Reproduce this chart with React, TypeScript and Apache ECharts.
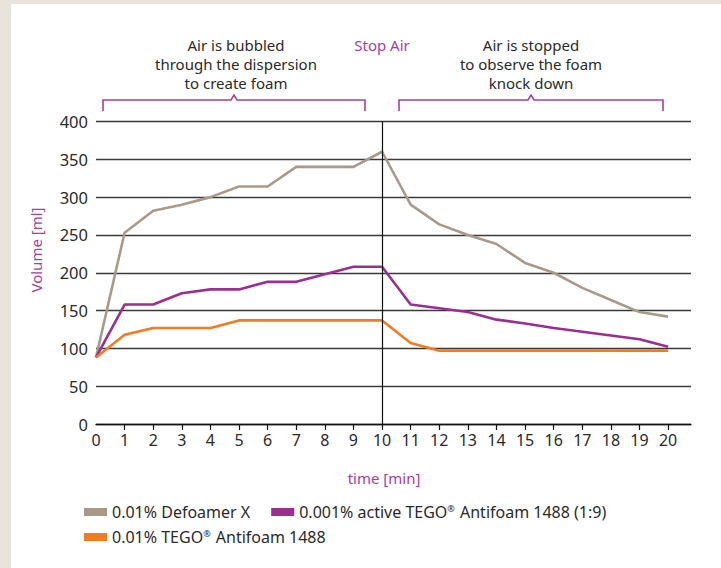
import React, { useEffect, useRef } from "react";
import * as echarts from "echarts";

const minutes = [0, 1, 2, 3, 4, 5, 6, 7, 8, 9, 10, 11, 12, 13, 14, 15, 16, 17, 18, 19, 20];
const defoamerX = [88, 253, 282, 290, 300, 314, 314, 340, 340, 340, 360, 290, 264, 250, 238, 213, 200, 180, 164, 148, 142];
const tegoDiluted = [88, 158, 158, 173, 178, 178, 188, 188, 198, 208, 208, 158, 153, 148, 138, 133, 127, 122, 117, 112, 102];
const tego = [88, 118, 127, 127, 127, 137, 137, 137, 137, 137, 137, 107, 97, 97, 97, 97, 97, 97, 97, 97, 97];
const seriesNames = [
  "0.01% Defoamer X",
  "0.001% active TEGO® Antifoam 1488 (1:9)",
  "0.01% TEGO® Antifoam 1488",
];
const xTicks = minutes;
const stopMinute = 10;

const FONT = "Noto Sans";
const TEXT = "#2a2a2a";
const PURPLE_TXT = "#a8409c";
const COLORS = ["#a89a8b", "#9b2f90", "#f47b20"];

export default function App() {
  const ref = useRef<HTMLDivElement>(null);
  useEffect(() => {
    document.body.style.margin = "0";
    const chart = echarts.init(ref.current!, null, { renderer: "svg" });
    const pair = (ys: number[]) => minutes.map((m, i) => [m, ys[i]]);
    const bracketStyle = { stroke: "#a8409c", lineWidth: 1.6, fill: null };
    const legendText = {
      color: TEXT,
      fontSize: 16,
      fontFamily: FONT,
      rich: {
        sup: { fontSize: 9, fontFamily: FONT, color: TEXT, verticalAlign: "top", padding: [0, 1, 0, 0] },
      },
    };
    const legendFormatter = (name: string) => name.replace("®", "{sup|®}");
    const option: any = {
      animation: false,
      backgroundColor: "#ffffff",
      textStyle: { fontFamily: FONT },
      grid: { left: 96, right: 30, top: 121.5, bottom: 144 },
      xAxis: {
        type: "value",
        min: 0,
        max: 20.8,
        interval: 1,
        axisLine: { show: true, lineStyle: { color: "#111", width: 1.3 } },
        axisTick: { show: true, length: 6, lineStyle: { color: "#111", width: 1.2 }, customValues: xTicks.slice(1) },
        axisLabel: { color: TEXT, fontSize: 16, fontFamily: FONT, margin: 8, customValues: xTicks },
        splitLine: { show: false },
      },
      yAxis: {
        type: "value",
        min: 0,
        max: 400,
        interval: 50,
        axisLine: { show: false },
        axisTick: { show: false },
        axisLabel: { color: TEXT, fontSize: 16.5, fontFamily: FONT, margin: 8 },
        splitLine: { show: true, lineStyle: { color: "#3a3a3a", width: 1.3 } },
      },
      legend: [
        {
          data: [seriesNames[0], seriesNames[1]],
          left: 79,
          top: 499,
          icon: "rect",
          itemWidth: 23,
          itemHeight: 8,
          itemGap: 21,
          formatter: legendFormatter,
          textStyle: legendText,
        },
        {
          data: [seriesNames[2]],
          left: 79,
          top: 524,
          icon: "rect",
          itemWidth: 23,
          itemHeight: 8,
          itemGap: 21,
          formatter: legendFormatter,
          textStyle: legendText,
        },
      ],
      series: [
        {
          name: seriesNames[0],
          type: "line",
          data: pair(defoamerX),
          symbol: "none",
          lineStyle: { color: COLORS[0], width: 2.6 },
          itemStyle: { color: COLORS[0] },
          markLine: {
            silent: true,
            symbol: ["none", "none"],
            label: { show: false },
            lineStyle: { color: "#111", width: 1.2, type: "solid" },
            data: [{ xAxis: stopMinute }],
          },
        },
        {
          name: seriesNames[1],
          type: "line",
          data: pair(tegoDiluted),
          symbol: "none",
          lineStyle: { color: COLORS[1], width: 2.6 },
          itemStyle: { color: COLORS[1] },
        },
        {
          name: seriesNames[2],
          type: "line",
          data: pair(tego),
          symbol: "none",
          lineStyle: { color: COLORS[2], width: 2.6 },
          itemStyle: { color: COLORS[2] },
        },
      ],
      graphic: [
        { type: "rect", shape: { x: 0, y: 0, width: 11, height: 568 }, style: { fill: "#e8e3dc" }, z: -10, silent: true },
        { type: "rect", shape: { x: 0, y: 0, width: 721, height: 4 }, style: { fill: "#e8e3dc" }, z: -10, silent: true },
        {
          type: "text",
          x: 236,
          y: 64,
          style: {
            text: "Air is bubbled\nthrough the dispersion\nto create foam",
            fill: TEXT,
            font: `15px '${FONT}'`,
            align: "center",
            verticalAlign: "middle",
            lineHeight: 19,
          },
        },
        {
          type: "text",
          x: 382,
          y: 45,
          style: { text: "Stop Air", fill: PURPLE_TXT, font: `15px '${FONT}'`, align: "center", verticalAlign: "middle" },
        },
        {
          type: "text",
          x: 531,
          y: 64,
          style: {
            text: "Air is stopped\nto observe the foam\nknock down",
            fill: TEXT,
            font: `15px '${FONT}'`,
            align: "center",
            verticalAlign: "middle",
            lineHeight: 19,
          },
        },
        {
          type: "polyline",
          shape: { points: [[103, 111], [103, 100], [231, 100], [234, 95], [237, 100], [365, 100], [365, 111]] },
          style: bracketStyle,
        },
        {
          type: "polyline",
          shape: { points: [[399, 111], [399, 100], [528, 100], [531, 95], [534, 100], [663, 100], [663, 111]] },
          style: bracketStyle,
        },
        {
          type: "text",
          x: 36,
          y: 250,
          rotation: Math.PI / 2,
          style: { text: "Volume [ml]", fill: PURPLE_TXT, font: `15px '${FONT}'`, align: "center", verticalAlign: "middle" },
        },
        {
          type: "text",
          x: 384,
          y: 478,
          style: { text: "time [min]", fill: PURPLE_TXT, font: `15px '${FONT}'`, align: "center", verticalAlign: "middle" },
        },
      ],
    };
    chart.setOption(option);
    return () => chart.dispose();
  }, []);
  return <div ref={ref} style={{ width: 721, height: 568 }} />;
}
